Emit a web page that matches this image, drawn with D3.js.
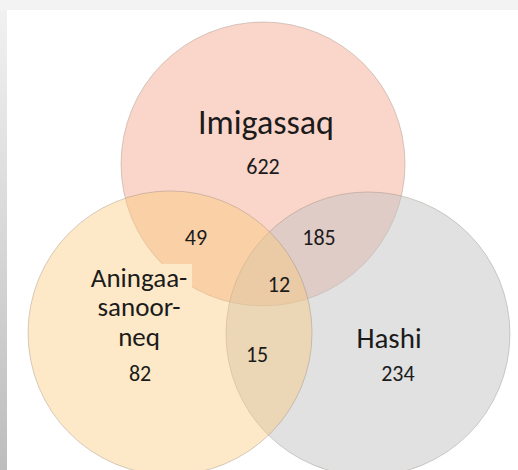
<!DOCTYPE html>
<html>
<head>
<meta charset="utf-8">
<script src="https://cdn.jsdelivr.net/npm/d3@7"></script>
<style>
  body { margin: 0; background: #f3f3f3; }
  svg { display: block; }
  text { font-family: Carlito, Calibri, Lato, "Open Sans", sans-serif; fill: #1b1b1b; }
</style>
</head>
<body>
<div id="venn"></div>
<script>
// sets and region counts
var set_names = ["Imigassaq", "Aningaa-sanoor-neq", "Hashi"];
var set_colors = ["#ed6e46", "#facb7a", "#c4c4c4"];
var set_opacity = [0.29, 0.42, 0.5];
var region_keys = ["Imigassaq", "Imigassaq+Aningaasanoorneq", "Imigassaq+Hashi", "all", "Aningaasanoorneq+Hashi", "Aningaasanoorneq", "Hashi"];
var region_values = [622, 49, 185, 12, 15, 82, 234];

var W = 518, H = 470;

// unit layout (1 unit = circle radius)
var centers = [[-0.035, -0.796], [-0.69, 0.394], [0.704, 0.401]];
var name_pos = [[-0.014, -1.007], [-0.908, 0.07], [0.852, 0.5]];
var value_pos = [[-0.035, -0.725], [-0.507, -0.222], [0.359, -0.225], [0.077, 0.106],
                 [-0.077, 0.599], [-0.901, 0.732], [0.915, 0.732]];

var x = d3.scaleLinear().domain([-2, 2]).range([268 - 284, 268 + 284]);
var y = d3.scaleLinear().domain([-2, 2]).range([277 - 284, 277 + 284]);
var r = x(1) - x(0);

var svg = d3.select("#venn").append("svg")
    .attr("width", W)
    .attr("height", H);

var defs = svg.append("defs");
var grad = defs.append("linearGradient")
    .attr("id", "side")
    .attr("x1", 0).attr("y1", 0).attr("x2", 0).attr("y2", 1);
grad.append("stop").attr("offset", "0%").attr("stop-color", "#f1f1f1");
grad.append("stop").attr("offset", "100%").attr("stop-color", "#bdbdbd");

///////////// FRAME /////////////
svg.append("rect").attr("width", W).attr("height", H).attr("fill", "#f3f3f3");
svg.append("rect").attr("x", 0).attr("y", 10).attr("width", 7).attr("height", H - 10).attr("fill", "url(#side)");
svg.append("rect").attr("x", 7).attr("y", 10).attr("width", W - 7).attr("height", H - 10).attr("fill", "#ffffff");

var plot = svg.append("g");

///////////// CIRCLES /////////////
// draw order: top, right, left
var order = [0, 2, 1];
plot.selectAll("circle.set")
    .data(order)
    .enter().append("circle")
    .attr("class", "set")
    .attr("cx", function(i) { return x(centers[i][0]); })
    .attr("cy", function(i) { return y(centers[i][1]); })
    .attr("r", r)
    .attr("fill", function(i) { return set_colors[i]; })
    .attr("fill-opacity", function(i) { return set_opacity[i]; })
    .attr("stroke", "#8a7a70")
    .attr("stroke-opacity", 0.35)
    .attr("stroke-width", 1);

///////////// LABEL BOX (text box behind the left name) /////////////
plot.append("rect")
    .attr("x", x(-1.29))
    .attr("y", y(-0.092))
    .attr("width", x(-0.535) - x(-1.29))
    .attr("height", y(0.3) - y(-0.092))
    .attr("fill", "#fde9c8");

///////////// NAMES /////////////
var name_sizes = [34, 27, 29];
var names_g = plot.selectAll("text.name")
    .data(set_names)
    .enter().append("text")
    .attr("class", "name")
    .attr("text-anchor", "middle")
    .attr("x", function(d, i) { return x(name_pos[i][0]); })
    .attr("y", function(d, i) { return y(name_pos[i][1]); })
    .style("font-size", function(d, i) { return name_sizes[i] + "px"; });

names_g.selectAll("tspan")
    .data(function(d) {
        var parts = d.split("-");
        return parts.map(function(p, k) { return k < parts.length - 1 ? p + "-" : p; });
    })
    .enter().append("tspan")
    .attr("x", function() { return this.parentNode.getAttribute("x"); })
    .attr("dy", function(d, k) { return k === 0 ? 0 : 29.5; })
    .text(function(d) { return d; });

///////////// COUNTS /////////////
plot.selectAll("text.count")
    .data(region_values)
    .enter().append("text")
    .attr("class", "count")
    .attr("text-anchor", "middle")
    .attr("x", function(d, i) { return x(value_pos[i][0]); })
    .attr("y", function(d, i) { return y(value_pos[i][1]); })
    .style("font-size", "22px")
    .text(function(d) { return d; });
</script>
</body>
</html>
